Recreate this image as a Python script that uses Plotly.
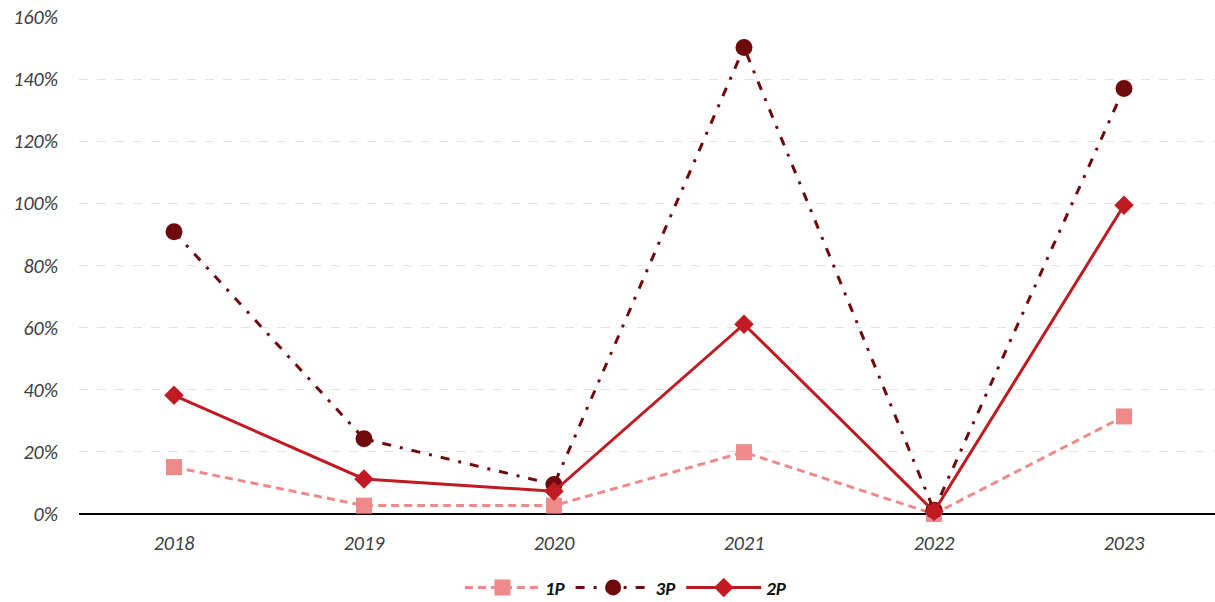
import plotly.graph_objects as go

years = ["2018", "2019", "2020", "2021", "2022", "2023"]
p1 = [0.151, 0.027, 0.027, 0.199, 0.0, 0.314]
p3 = [0.909, 0.242, 0.095, 1.502, 0.012, 1.370]
p2 = [0.382, 0.113, 0.073, 0.611, 0.008, 0.994]

y_ticks = [0, 0.2, 0.4, 0.6, 0.8, 1.0, 1.2, 1.4, 1.6]
y_tick_text = ["0%", "20%", "40%", "60%", "80%", "100%", "120%", "140%", "160%"]

xi = list(range(len(years)))

fig = go.Figure()
fig.add_trace(go.Scatter(
    x=xi, y=p1, name="1P", mode="lines+markers",
    line=dict(color="#F08A8A", width=3, dash="8px,5px"),
    marker=dict(symbol="square", size=16, color="#F08A8A"),
    cliponaxis=False,
))
fig.add_trace(go.Scatter(
    x=xi, y=p3, name="3P", mode="lines+markers",
    line=dict(color="#6E0A0C", width=3, dash="9px,9px,3px,9px"),
    marker=dict(symbol="circle", size=17, color="#6E0A0C"),
    cliponaxis=False,
))
fig.add_trace(go.Scatter(
    x=xi, y=p2, name="2P", mode="lines+markers",
    line=dict(color="#C01A22", width=3),
    marker=dict(symbol="diamond", size=15, color="#C01A22"),
    cliponaxis=False,
))

tick_font = dict(family="Carlito, Lato, Open Sans, sans-serif", size=20,
                 color="#404040", style="italic")

fig.update_layout(
    width=1215, height=602,
    margin=dict(l=79, r=0, t=17, b=88, autoexpand=False),
    paper_bgcolor="white", plot_bgcolor="white",
    showlegend=True,
    legend=dict(
        orientation="h", x=0.4815, xanchor="center", y=-0.148, yanchor="middle",
        font=dict(family="Carlito, Lato, Open Sans, sans-serif", size=19, color="#111111",
                  weight="bold", style="italic"),
        itemwidth=75, tracegroupgap=0,
    ),
    xaxis=dict(
        range=[-0.5, 5.479],
        tickvals=xi, ticktext=years,
        showgrid=False, zeroline=False,
        showline=False, automargin=False,
        ticks="", ticklabelstandoff=15,
        tickfont=tick_font,
    ),
    yaxis=dict(
        range=[0, 1.6],
        tickvals=y_ticks, ticktext=y_tick_text,
        showgrid=True, gridcolor="#E3E3E3", griddash="dash", gridwidth=1,
        zeroline=True, zerolinecolor="#000000", zerolinewidth=2,
        showline=False, automargin=False, ticks="", ticklabelstandoff=20,
        tickfont=tick_font,
    ),
)

fig.write_html("out.html")
